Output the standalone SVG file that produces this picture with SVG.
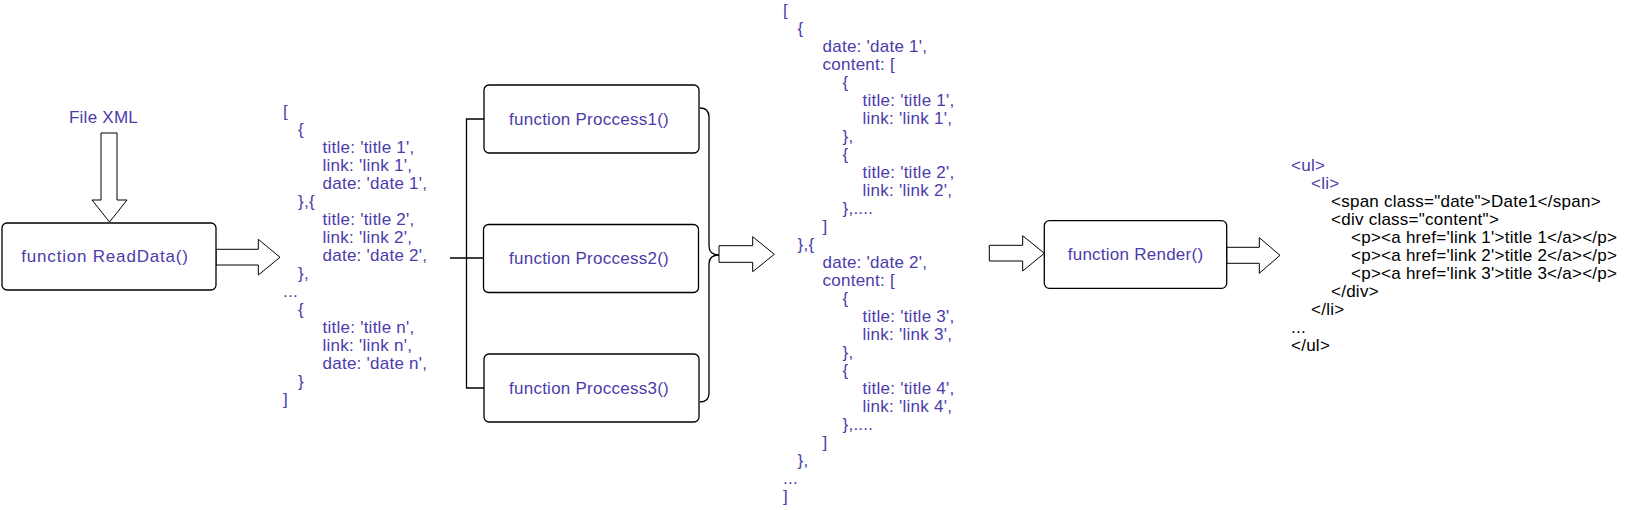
<svg xmlns="http://www.w3.org/2000/svg" width="1640" height="510" viewBox="0 0 1640 510">
<style>
text{font-family:"Liberation Sans",Arial,sans-serif;font-size:17px;letter-spacing:0.25px}
.p{fill:#4B3CAB}
.k{fill:#000}
.box{fill:#fff;stroke:#000;stroke-width:1.3}
.arr{fill:#fff;stroke:#000;stroke-width:1}
.ln{fill:none;stroke:#000;stroke-width:1.3}
.c{text-anchor:middle}
</style>
<rect width="1640" height="510" fill="#fff"/>
<g id="connectors">
<polygon class="arr" points="101,133 117,133 117,200 127,200 109.5,222 92,200 101,200"/>
<polygon class="arr" points="216,249.3 258.3,249.3 258.3,239.3 280,257.3 258.3,275 258.3,265 216,265"/>
<path class="ln" d="M484,119 L466.5,119 L466.5,388 L484,388 M450,258 L483.5,258"/>
<path class="ln" d="M700,108 Q709,108 709,117 L709,246 Q709,255 719,255 Q709,255 709,264 L709,393 Q709,402 700,402"/>
<polygon class="arr" points="719,245.7 752.7,245.7 752.7,236.7 774.3,254.3 752.7,271.7 752.7,262.3 719,262.3"/>
<polygon class="arr" points="989.3,245.3 1022.7,245.3 1022.7,235.7 1044.3,253.3 1022.7,271 1022.7,261 989.3,261"/>
<polygon class="arr" points="1226.7,247.3 1259.3,247.3 1259.3,237.7 1280,255.3 1259.3,273.3 1259.3,263.3 1226.7,263.3"/>
</g>
<g id="file-xml"><text class="p c" x="103.5" y="123">File XML</text></g>
<g id="readdata">
<rect class="box" x="2" y="223" width="214" height="67" rx="5"/>
<text class="p c" x="105" y="262" style="letter-spacing:0.8px">function ReadData()</text>
</g>
<g id="json-list" class="p">
<text class="p" x="283" y="116.5">[</text>
<text class="p" x="298" y="134.5">{</text>
<text class="p" x="322.5" y="152.5">title: 'title 1',</text>
<text class="p" x="322.5" y="170.5">link: 'link 1',</text>
<text class="p" x="322.5" y="188.5">date: 'date 1',</text>
<text class="p" x="298" y="206.5">},{</text>
<text class="p" x="322.5" y="224.5">title: 'title 2',</text>
<text class="p" x="322.5" y="242.5">link: 'link 2',</text>
<text class="p" x="322.5" y="260.5">date: 'date 2',</text>
<text class="p" x="298" y="278.5">},</text>
<text class="p" x="283" y="296.5">...</text>
<text class="p" x="298" y="314.5">{</text>
<text class="p" x="322.5" y="332.5">title: 'title n',</text>
<text class="p" x="322.5" y="350.5">link: 'link n',</text>
<text class="p" x="322.5" y="368.5">date: 'date n',</text>
<text class="p" x="298" y="386.5">}</text>
<text class="p" x="283" y="404.5">]</text>
</g>
<g id="process1">
<rect class="box" x="484" y="85" width="215" height="68" rx="5"/>
<text class="p c" x="589" y="125">function Proccess1()</text>
</g>
<g id="process2">
<rect class="box" x="483.5" y="224.5" width="215" height="68" rx="5"/>
<text class="p c" x="589" y="264">function Proccess2()</text>
</g>
<g id="process3">
<rect class="box" x="484" y="354" width="215" height="68" rx="5"/>
<text class="p c" x="589" y="394">function Proccess3()</text>
</g>
<g id="json-grouped">
<text class="p" x="783" y="15.5">[</text>
<text class="p" x="797.5" y="33.5">{</text>
<text class="p" x="822.5" y="51.5">date: 'date 1',</text>
<text class="p" x="822.5" y="69.5">content: [</text>
<text class="p" x="842.5" y="87.5">{</text>
<text class="p" x="862.5" y="105.5">title: 'title 1',</text>
<text class="p" x="862.5" y="123.5">link: 'link 1',</text>
<text class="p" x="842.5" y="141.5">},</text>
<text class="p" x="842.5" y="159.5">{</text>
<text class="p" x="862.5" y="177.5">title: 'title 2',</text>
<text class="p" x="862.5" y="195.5">link: 'link 2',</text>
<text class="p" x="842.5" y="213.5">},....</text>
<text class="p" x="822.5" y="231.5">]</text>
<text class="p" x="797.5" y="249.5">},{</text>
<text class="p" x="822.5" y="267.5">date: 'date 2',</text>
<text class="p" x="822.5" y="285.5">content: [</text>
<text class="p" x="842.5" y="303.5">{</text>
<text class="p" x="862.5" y="321.5">title: 'title 3',</text>
<text class="p" x="862.5" y="339.5">link: 'link 3',</text>
<text class="p" x="842.5" y="357.5">},</text>
<text class="p" x="842.5" y="375.5">{</text>
<text class="p" x="862.5" y="393.5">title: 'title 4',</text>
<text class="p" x="862.5" y="411.5">link: 'link 4',</text>
<text class="p" x="842.5" y="429.5">},....</text>
<text class="p" x="822.5" y="447.5">]</text>
<text class="p" x="797.5" y="465.5">},</text>
<text class="p" x="783" y="483.5">...</text>
<text class="p" x="783" y="501.5">]</text>
</g>
<g id="render">
<rect class="box" x="1044.3" y="220.7" width="182.4" height="67.6" rx="5"/>
<text class="p c" x="1135.5" y="259.5">function Render()</text>
</g>
<g id="html-output">
<text class="p" x="1291" y="171">&lt;ul&gt;</text>
<text class="p" x="1311" y="189">&lt;li&gt;</text>
<text class="k" x="1331" y="207">&lt;span class="date"&gt;Date1&lt;/span&gt;</text>
<text class="k" x="1331" y="225">&lt;div class="content"&gt;</text>
<text class="k" x="1351" y="243">&lt;p&gt;&lt;a href='link 1'&gt;title 1&lt;/a&gt;&lt;/p&gt;</text>
<text class="k" x="1351" y="261">&lt;p&gt;&lt;a href='link 2'&gt;title 2&lt;/a&gt;&lt;/p&gt;</text>
<text class="k" x="1351" y="279">&lt;p&gt;&lt;a href='link 3'&gt;title 3&lt;/a&gt;&lt;/p&gt;</text>
<text class="k" x="1331" y="297">&lt;/div&gt;</text>
<text class="k" x="1311" y="315">&lt;/li&gt;</text>
<text class="k" x="1291" y="333">...</text>
<text class="k" x="1291" y="351">&lt;/ul&gt;</text>
</g>
</svg>
